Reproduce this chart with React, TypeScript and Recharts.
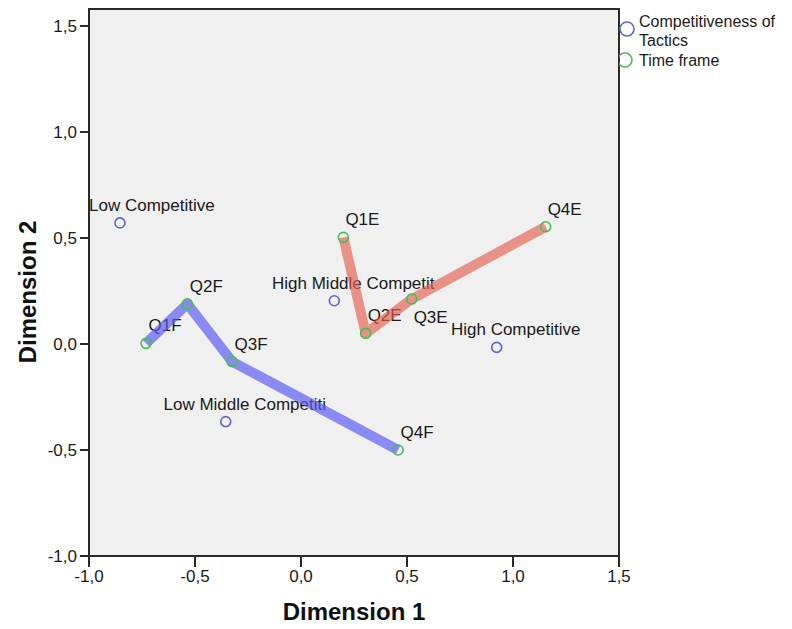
import React from 'react';
import { ScatterChart, Scatter, XAxis, YAxis, ReferenceArea } from 'recharts';

// ---- data ----
const categoryNames = ['Low Competitive', 'Low Middle Competiti', 'High Middle Competit', 'High Competitive'];
const categoryX = [-0.854, -0.355, 0.157, 0.923];
const categoryY = [0.571, -0.366, 0.204, -0.016];

const timeFNames = ['Q1F', 'Q2F', 'Q3F', 'Q4F'];
const timeFX = [-0.731, -0.536, -0.325, 0.458];
const timeFY = [0.003, 0.189, -0.083, -0.5];

const timeENames = ['Q1E', 'Q2E', 'Q3E', 'Q4E'];
const timeEX = [0.2, 0.305, 0.522, 1.154];
const timeEY = [0.503, 0.05, 0.212, 0.553];

const xTicks = [-1, -0.5, 0, 0.5, 1, 1.5];
const yTicks = [-1, -0.5, 0, 0.5, 1, 1.5];

const legendLine1 = ['Competitiveness of', 'Tactics'];
const legendLine2 = 'Time frame';

// ---- layout / style ----
const W = 792;
const H = 629;
const X_DOMAIN: [number, number] = [-1, 1.5];
const Y_DOMAIN: [number, number] = [-1, 1.58];
const PLOT = { left: 89, top: 9, width: 530, height: 547 };
const FONT = '"Liberation Sans", Arial, sans-serif';
const LABEL_SIZE = 17;
const BLUE_PT = '#5b67cc';
const GREEN_PT = '#45bf55';
const BLUE_LINE = '#5a5af6';
const RED_LINE = '#e4604e';
const AXIS = '#2a2a2a';

const build = (names: string[], xs: number[], ys: number[]) =>
  names.map((name, i) => ({ name, x: xs[i], y: ys[i] }));

const categories = build(categoryNames, categoryX, categoryY);
const timeF = build(timeFNames, timeFX, timeFY);
const timeE = build(timeENames, timeEX, timeEY);

let ctx: CanvasRenderingContext2D | null = null;
function measure(text: string): number {
  try {
    if (!ctx) ctx = document.createElement('canvas').getContext('2d');
    if (ctx) {
      ctx.font = `${LABEL_SIZE}px ${FONT}`;
      return ctx.measureText(text).width;
    }
  } catch (e) {}
  return text.length * LABEL_SIZE * 0.5;
}

type Box = { x1: number; x2: number; y1: number; y2: number };
const overlap = (a: Box, b: Box) => a.x1 < b.x2 && b.x1 < a.x2 && a.y1 < b.y2 && b.y1 < a.y2;

function layoutLabels(points: { name: string; x: number; y: number }[]) {
  const placed: Box[] = [];
  const out: Record<string, { dx: number; below: boolean }> = {};
  points.forEach((p) => {
    const px = PLOT.left + ((p.x - X_DOMAIN[0]) / (X_DOMAIN[1] - X_DOMAIN[0])) * PLOT.width;
    const py = PLOT.top + ((Y_DOMAIN[1] - p.y) / (Y_DOMAIN[1] - Y_DOMAIN[0])) * PLOT.height;
    const w = measure(p.name);
    const left = Math.max(px + 19 - w / 2, PLOT.left);
    const box = (c: number): Box => ({ x1: left, x2: left + w, y1: c - 7, y2: c + 7 });
    const above = box(py - 18);
    const below = placed.some((b) => overlap(b, above));
    placed.push(below ? box(py + 18) : above);
    out[p.name] = { dx: left - px, below };
  });
  return out;
}

const fmt = (v: number) => v.toFixed(1).replace('.', ',');

const Empty = () => <g />;

const circleShape = (color: string) => (props: any) => (
  <circle cx={props.cx} cy={props.cy} r={5} fill="none" stroke={color} strokeWidth={1.6} />
);

export default function App() {
  const allLabeled = [...categories, ...timeF, ...timeE];
  const labels = layoutLabels(allLabeled);

  const labelShape = (props: any) => {
    const info = labels[props.payload.name];
    if (!info) return <g />;
    return (
      <text
        x={props.cx + info.dx}
        y={info.below ? props.cy + 24 : props.cy - 12}
        fontSize={LABEL_SIZE}
        fontFamily={FONT}
        fill="#1a1a1a"
      >
        {props.payload.name}
      </text>
    );
  };

  return (
    <div style={{ position: 'absolute', left: 0, top: 0, width: W, height: H, background: '#fff' }}>
      <ScatterChart
        width={W}
        height={H}
        margin={{ top: PLOT.top, right: W - PLOT.left - PLOT.width, bottom: 0, left: 0 }}
      >
        <XAxis
          type="number"
          dataKey="x"
          domain={X_DOMAIN}
          ticks={xTicks}
          allowDataOverflow
          height={H - PLOT.top - PLOT.height}
          tickFormatter={fmt}
          tickSize={11}
          tickMargin={3}
          stroke={AXIS}
          strokeWidth={2}
          tick={{ fill: '#1a1a1a', fontSize: LABEL_SIZE, fontFamily: FONT }}
          label={{
            content: (p: any) => (
              <text
                x={p.viewBox.x + p.viewBox.width / 2}
                y={p.viewBox.y + 64}
                textAnchor="middle"
                fontSize={24}
                fontWeight="bold"
                fontFamily={FONT}
                fill="#111"
              >
                Dimension 1
              </text>
            ),
          }}
        />
        <YAxis
          type="number"
          dataKey="y"
          domain={Y_DOMAIN}
          ticks={yTicks}
          allowDataOverflow
          width={PLOT.left}
          tickFormatter={fmt}
          tickSize={9}
          tickMargin={3}
          stroke={AXIS}
          strokeWidth={2}
          tick={{ fill: '#1a1a1a', fontSize: LABEL_SIZE, fontFamily: FONT }}
          label={{
            content: () => (
              <text
                x={0}
                y={0}
                transform={`translate(36, 292) rotate(-90)`}
                textAnchor="middle"
                fontSize={24}
                fontWeight="bold"
                fontFamily={FONT}
                fill="#111"
              >
                Dimension 2
              </text>
            ),
          }}
        />
        <ReferenceArea
          x1={X_DOMAIN[0]}
          x2={X_DOMAIN[1]}
          y1={Y_DOMAIN[0]}
          y2={Y_DOMAIN[1]}
          fill="#f0f0f0"
          fillOpacity={1}
          stroke={AXIS}
          strokeWidth={2}
          ifOverflow="visible"
        />
        <Scatter name="labels" data={allLabeled} shape={labelShape} isAnimationActive={false} />
        <Scatter
          name="Flines"
          data={timeF}
          shape={Empty}
          line={{ stroke: BLUE_LINE, strokeWidth: 10, strokeOpacity: 0.68, strokeLinejoin: 'round' }}
          isAnimationActive={false}
        />
        <Scatter
          name="Elines"
          data={timeE}
          shape={Empty}
          line={{ stroke: RED_LINE, strokeWidth: 10, strokeOpacity: 0.65, strokeLinejoin: 'round' }}
          isAnimationActive={false}
        />
        <Scatter name="Competitiveness of Tactics" data={categories} shape={circleShape(BLUE_PT)} isAnimationActive={false} />
        <Scatter name={legendLine2} data={[...timeF, ...timeE]} shape={circleShape(GREEN_PT)} isAnimationActive={false} />
      </ScatterChart>
      <svg
        width={W - PLOT.left - PLOT.width}
        height={90}
        style={{ position: 'absolute', left: PLOT.left + PLOT.width, top: 0 }}
      >
        <circle cx={8} cy={29} r={7} fill="none" stroke={BLUE_PT} strokeWidth={1.6} />
        <text x={20} y={26.5} fontSize={16} fontFamily={FONT} fill="#1a1a1a">
          {legendLine1[0]}
        </text>
        <text x={20} y={45.5} fontSize={16} fontFamily={FONT} fill="#1a1a1a">
          {legendLine1[1]}
        </text>
        <circle cx={6} cy={60} r={7} fill="none" stroke={GREEN_PT} strokeWidth={1.6} />
        <text x={20} y={66} fontSize={16} fontFamily={FONT} fill="#1a1a1a">
          {legendLine2}
        </text>
      </svg>
    </div>
  );
}
